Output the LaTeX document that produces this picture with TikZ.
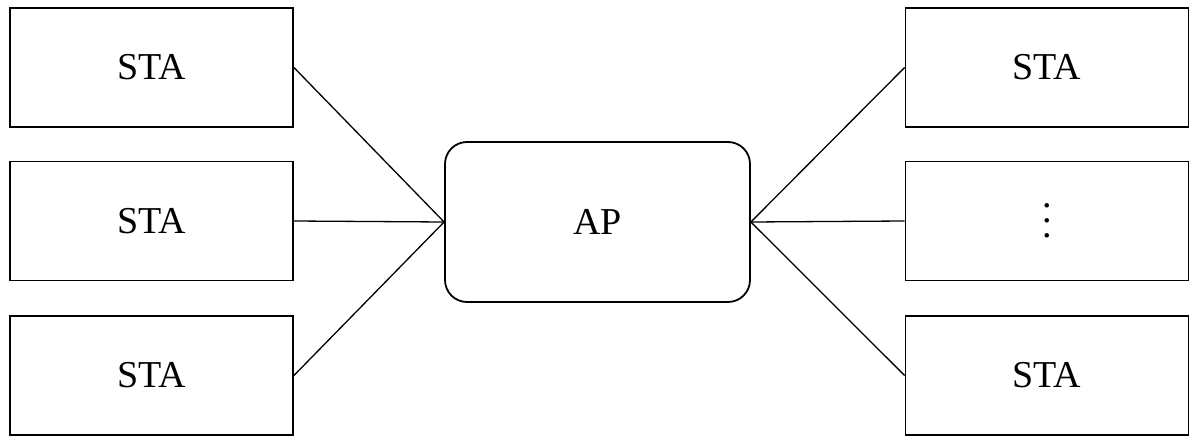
\documentclass[tikz,border=0pt]{standalone}
\usepackage{fontspec}
\setmainfont{Liberation Serif}
\usetikzlibrary{positioning}
\newcommand{\boxw}{283pt}
\newcommand{\boxh}{119pt}
\tikzset{
    stasty/.style={draw,line width=1.8pt,rectangle,minimum width=\boxw,minimum height=\boxh,anchor=center,font=\fontsize{38}{44}\selectfont},
    apsty/.style={draw,line width=1.8pt,rectangle,rounded corners=22pt,minimum width=305pt,minimum height=160pt,anchor=center,font=\fontsize{38}{44}\selectfont},
    linksty/.style={line width=1.3pt},
}
\begin{document}
\begin{tikzpicture}[x=1pt,y=-1pt]
  \useasboundingbox (0,0) rectangle (1200,447);
  \node[apsty] (ap) at (597.5,222) {AP};

  \node[stasty] (l1) at (151.5,67.5) {STA};
  \node[stasty] (l2) at (151.5,221) {STA};
  \node[stasty] (l3) at (151.5,375.5) {STA};

  \node[stasty] (r1) at (1047,67.5) {STA};
  \node[stasty,align=center,font=\fontsize{38}{15}\selectfont] (r2) at (1047,221) {.\\.\\.};
  \node[stasty] (r3) at (1047,375.5) {STA};

  \foreach \s in {l1,l2,l3}
    \draw[linksty] (\s.east) -- (ap.west);
  \foreach \s in {r1,r2,r3}
    \draw[linksty] (ap.east) -- (\s.west);
\end{tikzpicture}
\end{document}
